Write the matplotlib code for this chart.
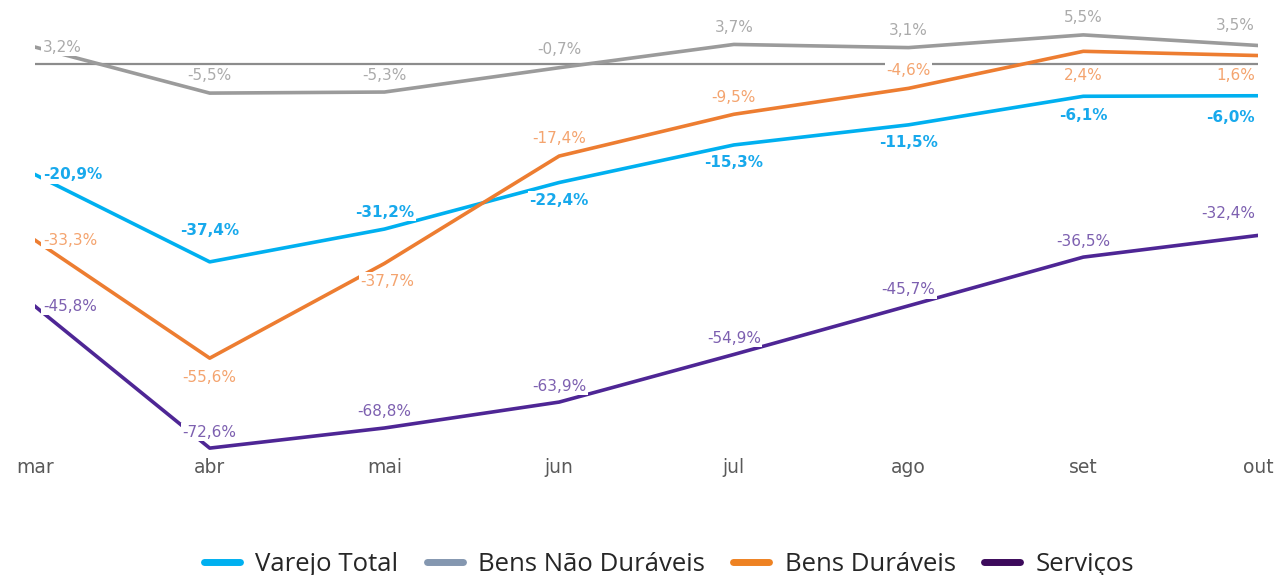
import matplotlib.pyplot as plt
from matplotlib.lines import Line2D

meses = ['mar', 'abr', 'mai', 'jun', 'jul', 'ago', 'set', 'out']
varejo_total = [-20.9, -37.4, -31.2, -22.4, -15.3, -11.5, -6.1, -6.0]
bens_nao_duraveis = [3.2, -5.5, -5.3, -0.7, 3.7, 3.1, 5.5, 3.5]
bens_duraveis = [-33.3, -55.6, -37.7, -17.4, -9.5, -4.6, 2.4, 1.6]
servicos = [-45.8, -72.6, -68.8, -63.9, -54.9, -45.7, -36.5, -32.4]
nomes = ['Varejo Total', 'Bens Não Duráveis', 'Bens Duráveis', 'Serviços']

# label offsets in pixels (dx, dy) per point
off_varejo = [(8, 0), (0, 31), (0, 17), (0, -18), (0, -18), (0, -18), (0, -19), (-3, -22)]
off_nao_dur = [(8, 0), (0, 18), (0, 17), (0, 18), (0, 17), (0, 17), (0, 17), (-3, 20)]
off_dur = [(8, 0), (0, -19), (3, -18), (0, 18), (0, 17), (0, 18), (0, -24), (-3, -20)]
off_serv = [(8, 0), (0, 16), (0, 17), (0, 16), (0, 16), (0, 16), (0, 16), (-3, 22)]

fig = plt.figure(figsize=(12.77, 5.75), dpi=100)
ax = fig.add_axes([0.02741, 0.2078, 0.95771, 0.7545])
x = list(range(len(meses)))

ax.axhline(0, color='#8c8c8c', lw=1.6, zorder=1)

series = [
    (varejo_total, '#00b0f0', '#18a9ec', 'bold', off_varejo),
    (bens_nao_duraveis, '#9b9b9b', '#ababab', 'normal', off_nao_dur),
    (bens_duraveis, '#ed7d31', '#f4a46f', 'normal', off_dur),
    (servicos, '#4e2695', '#7d60b0', 'normal', off_serv),
]

for vals, lc, tc, fw, offs in series:
    ax.plot(x, vals, color=lc, lw=2.6, zorder=2, solid_joinstyle='round')
    for i, v in enumerate(vals):
        dx, dy = offs[i]
        ha = 'center'
        if i == 0:
            ha = 'left'
        elif i == len(vals) - 1:
            ha = 'right'
        ax.annotate(f'{v:.1f}%'.replace('.', ','), (i, v), xytext=(dx, dy),
                    textcoords='offset pixels', ha=ha, va='center',
                    fontsize=11, color=tc, fontweight=fw, zorder=5,
                    bbox=dict(boxstyle='square,pad=0.1', fc='white', ec='none'))

ax.set_xlim(0, 7)
ax.set_ylim(-74, 8)
ax.set_xticks(x)
ax.set_xticklabels(meses, fontsize=13.5, color='#595959')
ax.tick_params(axis='x', length=0, pad=2)
ax.set_yticks([])
for s in ax.spines.values():
    s.set_visible(False)

leg_cores = ['#00b0f0', '#8497b0', '#ee8222', '#3c0a5b']
handles = [Line2D([0], [0], color=c, lw=5, solid_capstyle='round') for c in leg_cores]
fig.legend(handles, nomes, loc='center', bbox_to_anchor=(669 / 1277, 0.019), ncol=4,
           frameon=False, borderpad=0, handlelength=1.4, handletextpad=0.6,
           columnspacing=1.1, labelcolor='#262626',
           prop={'family': 'Open Sans', 'size': 18.5})

fig.savefig('out.png', dpi=100)
